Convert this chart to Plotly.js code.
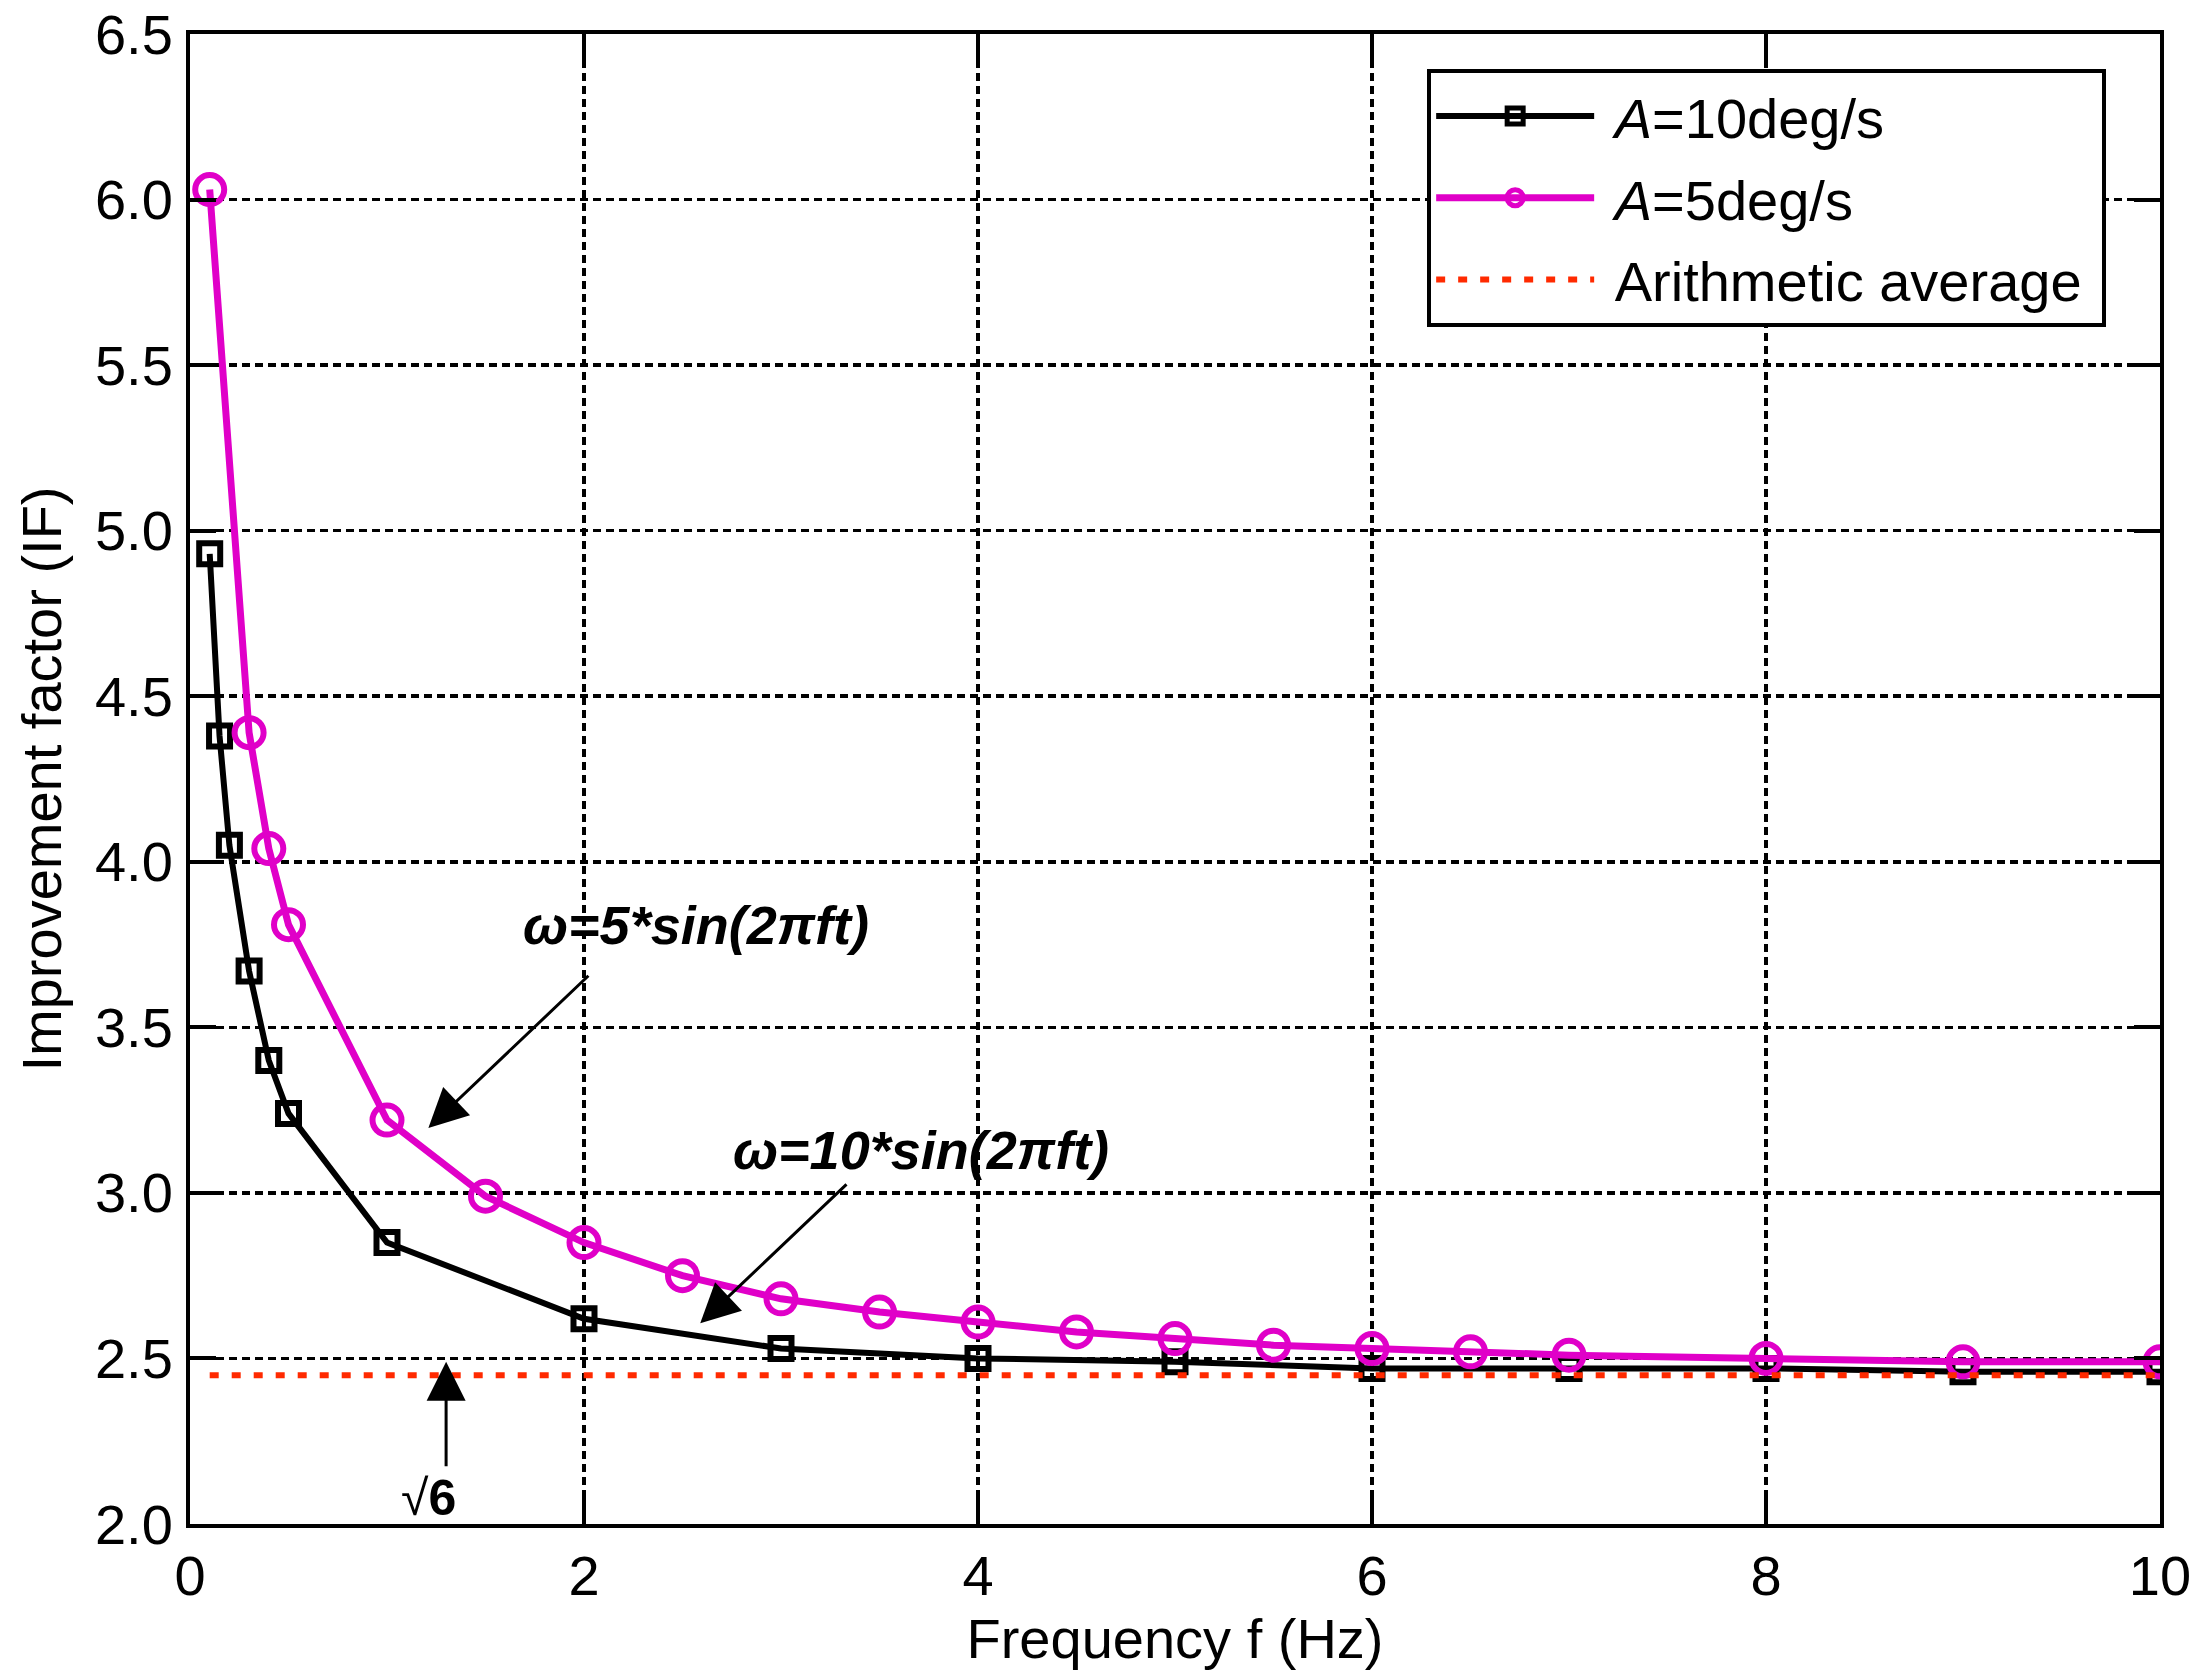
<!DOCTYPE html>
<html>
<head>
<meta charset="utf-8">
<script src="https://cdn.plot.ly/plotly-3.0.1.min.js"></script>
<style>
  html, body { margin: 0; padding: 0; background: #fff; }
  #myDiv { width: 2202px; height: 1677px; }
</style>
</head>
<body>
<div id="myDiv"></div>
<script>
// A = 10 deg/s
var freq10 = [0.1, 0.15, 0.2, 0.3, 0.4, 0.5, 1, 2, 3, 4, 5, 6, 7, 8, 9, 10];
var if10   = [4.93, 4.38, 4.05, 3.67, 3.40, 3.24, 2.85, 2.62, 2.53, 2.50, 2.49, 2.47, 2.47, 2.47, 2.46, 2.46];

// A = 5 deg/s
var freq5 = [0.1, 0.3, 0.4, 0.5, 1, 1.5, 2, 2.5, 3, 3.5, 4, 4.5, 5, 5.5, 6, 6.5, 7, 8, 9, 10];
var if5   = [6.03, 4.39, 4.04, 3.81, 3.22, 2.99, 2.85, 2.75, 2.68, 2.64, 2.61, 2.58, 2.56, 2.54, 2.53, 2.52, 2.51, 2.50, 2.49, 2.49];

// arithmetic average = sqrt(6)
var avgX = [0.1, 10];
var avgY = [Math.sqrt(6), Math.sqrt(6)];

var xTicks = [0, 2, 4, 6, 8, 10];
var yTicks = [2.0, 2.5, 3.0, 3.5, 4.0, 4.5, 5.0, 5.5, 6.0, 6.5];

var fnt = 'Liberation Sans, Arial, sans-serif';
var sp = '\u00a0';

var trace1 = {
  x: freq10,
  y: if10,
  mode: 'lines+markers',
  type: 'scatter',
  name: sp + '<i>A</i>=10deg/s',
  legendgroup: 'a',
  line: { color: '#000000', width: 6 },
  marker: { symbol: 'square-open', size: 21, color: '#000000',
            line: { width: 6, color: '#000000' } }
};

var trace2 = {
  x: freq5,
  y: if5,
  mode: 'lines+markers',
  type: 'scatter',
  name: sp + '<i>A</i>=5deg/s',
  legendgroup: 'b',
  line: { color: '#e000c8', width: 7 },
  marker: { symbol: 'circle-open', size: 29, color: '#e000c8',
            line: { width: 6, color: '#e000c8' } }
};

var trace3 = {
  x: avgX,
  y: avgY,
  mode: 'lines',
  type: 'scatter',
  name: sp + 'Arithmetic average' + sp,
  legendgroup: 'c',
  line: { color: '#ff2a00', width: 6, dash: '9px,13px' }
};

var data = [trace1, trace2, trace3];

var axisCommon = {
  showline: true,
  linecolor: '#000',
  linewidth: 4,
  mirror: 'ticks',
  ticks: 'inside',
  ticklen: 26,
  tickwidth: 4,
  tickcolor: '#000',
  showgrid: true,
  gridcolor: '#000',
  gridwidth: 3.5,
  griddash: '8px,5px',
  zeroline: false,
  tickfont: { family: fnt, size: 56, color: '#000' }
};

var layout = {
  width: 2202,
  height: 1677,
  margin: { l: 190, r: 42, t: 34, b: 153 },
  paper_bgcolor: '#fff',
  plot_bgcolor: '#fff',
  xaxis: Object.assign({}, axisCommon, {
    range: [0, 10],
    tickvals: xTicks,
    ticktext: xTicks.map(String),
    title: { text: 'Frequency f (Hz)', font: { family: fnt, size: 56, color: '#000' }, standoff: 8 }
  }),
  yaxis: Object.assign({}, axisCommon, {
    range: [2, 6.5],
    tickvals: yTicks,
    ticktext: yTicks.map(function (v) { return v.toFixed(1); }),
    ticklabelstandoff: 2,
    title: { text: 'Improvement factor (IF)', font: { family: fnt, size: 56, color: '#000' }, standoff: 16 }
  }),
  showlegend: true,
  legend: {
    x: 0.628, y: 0.9765, xanchor: 'left', yanchor: 'top',
    bgcolor: '#fff',
    bordercolor: '#000',
    borderwidth: 4,
    font: { family: fnt, size: 56, color: '#000' },
    traceorder: 'grouped',
    tracegroupgap: 6,
    itemwidth: 158
  },
  annotations: [
    {
      x: 1.21, y: 3.196, ax: 2.03, ay: 3.66,
      xref: 'x', yref: 'y', axref: 'x', ayref: 'y',
      text: '', showarrow: true, arrowhead: 2, arrowsize: 2.6, arrowwidth: 3, arrowcolor: '#000'
    },
    {
      x: 2.59, y: 2.606, ax: 3.34, ay: 3.03,
      xref: 'x', yref: 'y', axref: 'x', ayref: 'y',
      text: '', showarrow: true, arrowhead: 2, arrowsize: 2.6, arrowwidth: 3, arrowcolor: '#000'
    },
    {
      x: 1.30, y: 2.49, ax: 1.30, ay: 2.17,
      xref: 'x', yref: 'y', axref: 'x', ayref: 'y',
      text: '', showarrow: true, arrowhead: 2, arrowsize: 2.6, arrowwidth: 3, arrowcolor: '#000'
    },
    {
      x: 2.57, y: 3.81, xref: 'x', yref: 'y', showarrow: false,
      text: '<b><i>\u03c9=5*sin(2\u03c0ft)</i></b>',
      font: { family: fnt, size: 54, color: '#000' }
    },
    {
      x: 3.71, y: 3.13, xref: 'x', yref: 'y', showarrow: false,
      text: '<b><i>\u03c9=10*sin(2\u03c0ft)</i></b>',
      font: { family: fnt, size: 54, color: '#000' }
    },
    {
      x: 1.21, y: 2.08, xref: 'x', yref: 'y', showarrow: false,
      text: '\u221a<b>6</b>',
      font: { family: fnt, size: 50, color: '#000' }
    }
  ]
};

Plotly.newPlot('myDiv', data, layout, { staticPlot: true });
</script>
</body>
</html>
